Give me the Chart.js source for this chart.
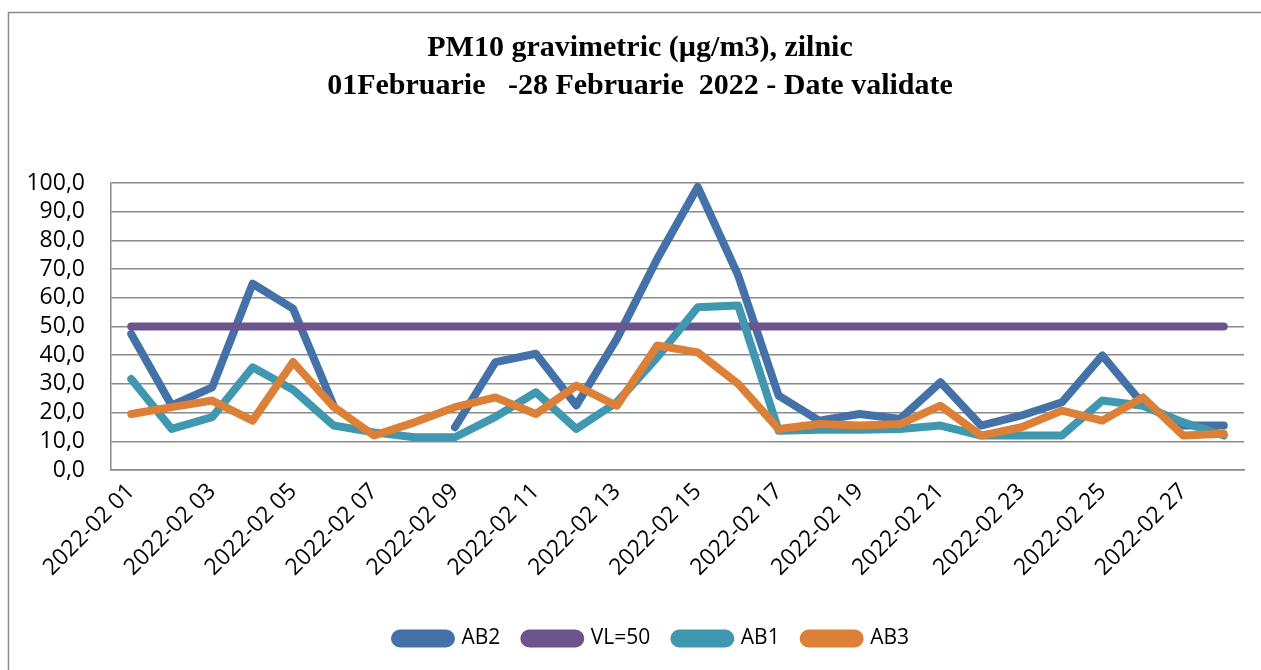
<!DOCTYPE html>
<html>
<head>
<meta charset="utf-8">
<script src="https://cdn.jsdelivr.net/npm/chart.js@4/dist/chart.umd.min.js"></script>
<style>
html,body{margin:0;padding:0;background:#fff;}
#wrap{width:1261px;height:670px;position:relative;}
</style>
</head>
<body>
<div id="wrap"><canvas id="c"></canvas></div>
<script>
const titleLines = ['PM10 gravimetric (\u00b5g/m3), zilnic', '01Februarie   -28 Februarie  2022 - Date validate'];
const categories = ['2022-02 01','2022-02 02','2022-02 03','2022-02 04','2022-02 05','2022-02 06','2022-02 07','2022-02 08','2022-02 09','2022-02 10','2022-02 11','2022-02 12','2022-02 13','2022-02 14','2022-02 15','2022-02 16','2022-02 17','2022-02 18','2022-02 19','2022-02 20','2022-02 21','2022-02 22','2022-02 23','2022-02 24','2022-02 25','2022-02 26','2022-02 27','2022-02 28'];
const AB2 = [47.4, 22.5, 28.8, 64.9, 56.2, 22.5, null, null, 14.9, 37.6, 40.5, 22.5, 45.7, 73.6, 98.6, 67.8, 25.9, 17.2, 19.5, 17.8, 30.6, 15.5, 19.0, 23.6, 39.9, 23.0, 15.5, 15.5];
const VL50 = [50, 50, 50, 50, 50, 50, 50, 50, 50, 50, 50, 50, 50, 50, 50, 50, 50, 50, 50, 50, 50, 50, 50, 50, 50, 50, 50, 50];
const AB1 = [31.7, 14.3, 18.4, 35.8, 28.0, 15.5, 13.1, 11.4, 11.4, 18.5, 27.1, 14.3, 23.6, 39.3, 56.7, 57.3, 13.7, 14.0, 14.0, 14.3, 15.5, 12.0, 12.0, 12.0, 24.2, 22.4, 16.6, 12.0];
const AB3 = [19.5, 21.9, 24.2, 17.2, 37.6, 22.0, 12.0, 16.6, 21.9, 25.3, 19.5, 29.4, 22.4, 43.4, 41.0, 30.0, 14.3, 16.0, 15.5, 16.0, 22.4, 12.0, 14.9, 20.7, 17.2, 25.3, 12.0, 12.6];
const yTicks = [0,10,20,30,40,50,60,70,80,90,100];

const GRID = '#8a8a8a';

function ds(label, data, color, order) {
  return {
    label, data, order,
    borderColor: color, backgroundColor: color,
    borderWidth: 8, borderCapStyle: 'round', borderJoinStyle: 'round',
    pointRadius: 0, pointHoverRadius: 0, tension: 0, spanGaps: false, clip: false
  };
}

const framePlugin = {
  id: 'frame',
  beforeDraw(chart) {
    const ctx = chart.ctx;
    ctx.save();
    ctx.fillStyle = '#fff';
    ctx.fillRect(0, 0, chart.width, chart.height);
    ctx.strokeStyle = '#8c8c8c';
    ctx.lineWidth = 1.5;
    ctx.beginPath();
    ctx.moveTo(8.5, chart.height + 2);
    ctx.lineTo(8.5, 12.5);
    ctx.lineTo(chart.width + 2, 12.5);
    ctx.stroke();
    ctx.restore();
  },
  afterLayout(chart) {
    if (chart.legend) { chart.legend.left += 30; chart.legend.right += 30; }
  },
  afterDraw(chart) {
    const ctx = chart.ctx;
    ctx.save();
    ctx.fillStyle = '#000';
    ctx.font = 'bold 30px "Liberation Serif", "Times New Roman", serif';
    ctx.textAlign = 'center';
    ctx.textBaseline = 'middle';
    ctx.fillText(titleLines[0], 640, 48);
    ctx.fillText(titleLines[1], 640, 86);
    ctx.restore();
  }
};

new Chart(document.getElementById('c'), {
  type: 'line',
  data: {
    labels: categories,
    datasets: [
      ds('AB2', AB2, '#4471a7', 4),
      ds('VL=50', VL50, '#6c558d', 3),
      ds('AB1', AB1, '#3f98b0', 2),
      ds('AB3', AB3, '#dc7f37', 1)
    ]
  },
  options: {
    responsive: true,
    maintainAspectRatio: false,
    animation: false,
    devicePixelRatio: 1,
    layout: { padding: { top: 183, left: 0, right: 17, bottom: 11 } },
    plugins: {
      title: { display: false },
      tooltip: { enabled: false },
      legend: {
        position: 'bottom',
        labels: {
          sort: (a, b) => a.datasetIndex - b.datasetIndex,
          boxWidth: 56, boxHeight: 10, useBorderRadius: true, borderRadius: 5,
          padding: 24,
          color: '#000',
          font: { family: '"Open Sans", sans-serif', size: 21 }
        }
      }
    },
    scales: {
      x: {
        offset: true,
        grid: { display: false, drawTicks: false },
        border: { display: true, color: GRID, width: 1.5 },
        afterFit(scale) { scale.height = 134; },
        ticks: {
          autoSkip: false, maxRotation: 45, minRotation: 45, padding: 8,
          color: '#000',
          font: { family: '"Open Sans", sans-serif', size: 23 },
          callback(v, i) { return i % 2 === 0 ? categories[i] : null; }
        }
      },
      y: {
        min: 0, max: 100,
        afterFit(scale) { scale.width = 111; },
        afterBuildTicks(scale) { scale.ticks = yTicks.map(v => ({ value: v })); },
        grid: { color: GRID, lineWidth: 1.5, drawTicks: false },
        border: { display: true, color: GRID, width: 1.5 },
        ticks: {
          autoSkip: false,
          padding: 26, color: '#000',
          font: { family: '"Open Sans", sans-serif', size: 23 },
          callback(v) { return v.toFixed(1).replace('.', ','); }
        }
      }
    }
  },
  plugins: [framePlugin]
});
</script>
</body>
</html>
